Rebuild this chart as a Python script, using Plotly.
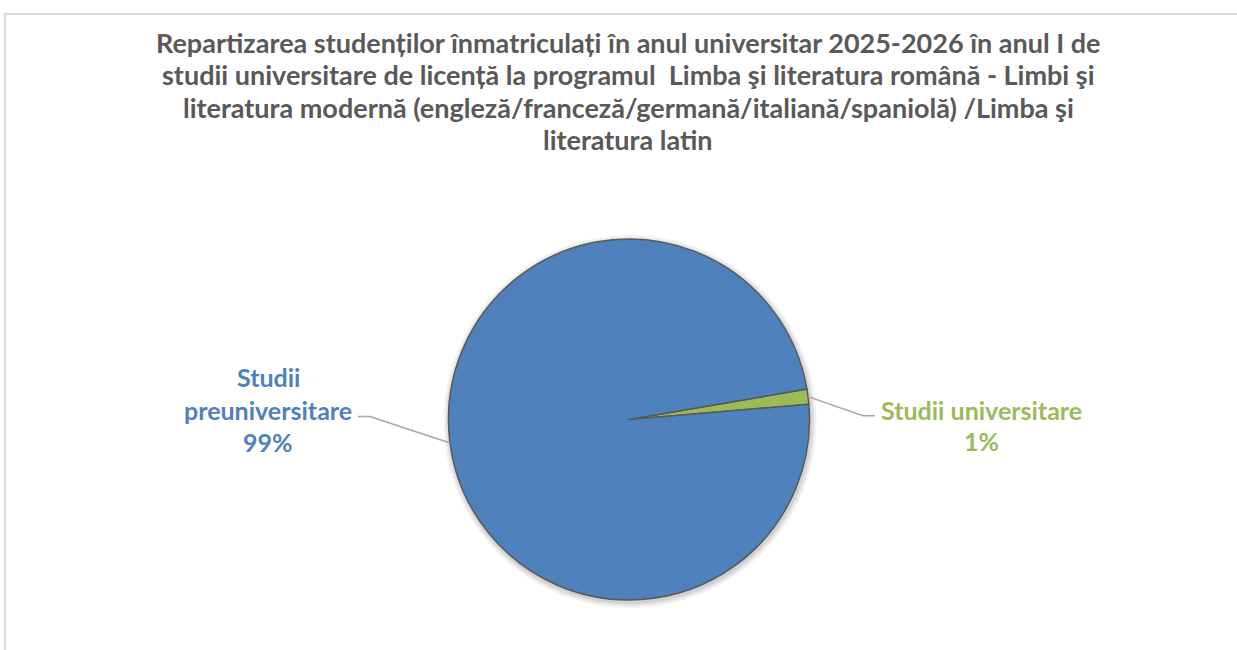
import math
import plotly.graph_objects as go

W, H = 1237, 650

# ---- data ----
categories = ["Studii universitare", "Studii preuniversitare"]
values = [1, 73]
percent_text = ["1%", "99%"]
colors = ["#9BBB59", "#4F81BD"]

title_lines = [
    "Repartizarea studenților înmatriculați în anul universitar 2025-2026 în anul I de",
    "studii universitare de licență la programul  Limba şi literatura română - Limbi şi",
    "literatura modernă (engleză/franceză/germană/italiană/spaniolă) /Limba şi",
    "literatura latin",
]

FONT = "Lato"
TITLE_SIZE = 27
LABEL_SIZE = 25

# pie geometry (pixels)
cx, cy, r = 629, 419.5, 180.5
rotation = 80.3

def px(x):
    return x / W

def py(y):
    return 1 - y / H

fig = go.Figure()

# soft shadow
for k, a in [(6, 0.05), (4, 0.06), (2, 0.08)]:
    fig.add_trace(go.Pie(
        values=[1], labels=["s"], sort=False, textinfo="none", hoverinfo="skip",
        marker=dict(colors=[f"rgba(0,0,0,{a})"], line=dict(width=0)),
        domain=dict(x=[px(cx - r - k + 1), px(cx + r + k + 1)],
                    y=[py(cy + r + k + 2), py(cy - r - k + 2)]),
        showlegend=False,
    ))

fig.add_trace(go.Pie(
    labels=categories, values=values, sort=False, direction="clockwise",
    rotation=rotation, textinfo="none", hoverinfo="label+percent",
    marker=dict(colors=colors, line=dict(color="#595959", width=1.5)),
    domain=dict(x=[px(cx - r), px(cx + r)], y=[py(cy + r), py(cy - r)]),
    showlegend=False,
))

annotations = []
title_y = [42, 74.5, 107, 139.5]
for line, y in zip(title_lines, title_y):
    annotations.append(dict(
        text=line, x=px(628), y=py(y), xref="paper", yref="paper",
        xanchor="center", yanchor="middle", showarrow=False,
        font=dict(family=FONT, size=TITLE_SIZE, color="#595959", weight="bold"),
    ))

# label for Studii preuniversitare (left)
left_lines = ["Studii", "preuniversitare", percent_text[1]]
for line, y in zip(left_lines, [377, 409.5, 441.5]):
    annotations.append(dict(
        text=line, x=px(268), y=py(y), xref="paper", yref="paper",
        xanchor="center", yanchor="middle", showarrow=False,
        font=dict(family=FONT, size=LABEL_SIZE, color=colors[1], weight="bold"),
    ))

# label for Studii universitare (right)
right_lines = [categories[0], percent_text[0]]
for line, y in zip(right_lines, [409.5, 441]):
    annotations.append(dict(
        text=line, x=px(981), y=py(y), xref="paper", yref="paper",
        xanchor="center", yanchor="middle", showarrow=False,
        font=dict(family=FONT, size=LABEL_SIZE, color=colors[0], weight="bold"),
    ))

# leader lines
total = sum(values)
mid_deg = rotation + 360 * values[0] / total / 2  # clockwise from 12 o'clock
ang = math.radians(90 - mid_deg)
ax_r, ay_r = cx + r * math.cos(ang), cy - r * math.sin(ang)
ang_l = math.radians(180 + 7.5)
ax_l, ay_l = cx + r * math.cos(ang_l), cy - r * math.sin(ang_l)

shapes = [
    dict(type="path", xref="paper", yref="paper",
         path=f"M {px(ax_r)} {py(ay_r)} L {px(863)} {py(415.7)} L {px(875)} {py(415.7)}",
         line=dict(color="#A6A6A6", width=1.5)),
    dict(type="path", xref="paper", yref="paper",
         path=f"M {px(ax_l)} {py(ay_l)} L {px(370)} {py(416.5)} L {px(358)} {py(416.5)}",
         line=dict(color="#A6A6A6", width=1.5)),
    dict(type="rect", xref="paper", yref="paper",
         x0=px(5), x1=1.02, y0=-0.02, y1=py(14),
         line=dict(color="#D9D9D9", width=2), fillcolor="rgba(0,0,0,0)", layer="below"),
]

fig.update_layout(
    width=W, height=H,
    margin=dict(l=0, r=0, t=0, b=0),
    paper_bgcolor="white", plot_bgcolor="white",
    annotations=annotations, shapes=shapes,
    showlegend=False,
)

fig.write_html(
    "out.html",
    config={"displayModeBar": False},
    post_script="document.body.style.margin='0';document.body.style.overflow='hidden';",
)
